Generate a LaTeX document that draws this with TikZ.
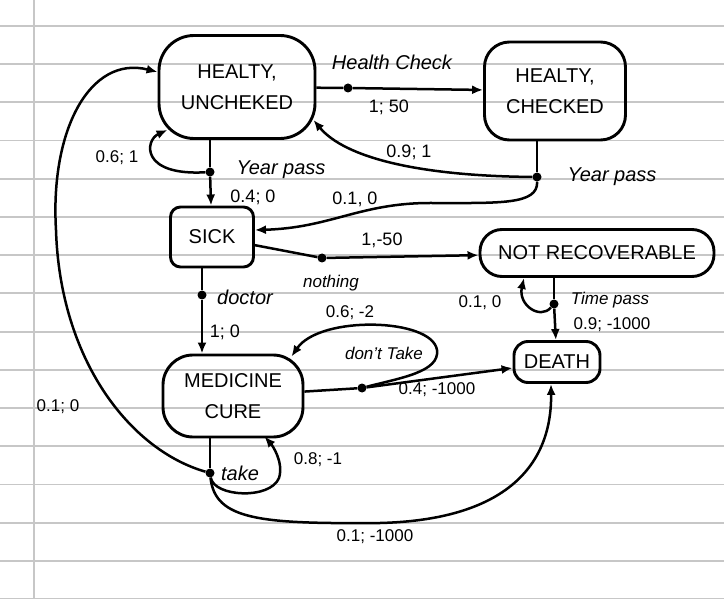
\documentclass[tikz,border=0pt]{standalone}
\usepackage{fontspec}
\setmainfont{Liberation Sans}
\usepackage{tikz}
\usetikzlibrary{arrows.meta,calc}

\begin{document}
\begin{tikzpicture}[x=1pt, y=-1pt, >={Latex[length=11pt,width=9pt]},
    state/.style={draw, line width=2.9pt, align=center, inner sep=2pt, font=\fontsize{20}{31}\selectfont},
    choice/.style={circle, fill, inner sep=0pt, minimum size=9pt},
    link/.style={line width=2.5pt},
    word/.style={font=\fontsize{20}{24}\selectfont\itshape},
    sword/.style={font=\fontsize{17}{20}\selectfont\itshape},
    num/.style={font=\fontsize{18}{21}\selectfont},
    snum/.style={font=\fontsize{17}{20}\selectfont}]
    \useasboundingbox (0,0) rectangle (724,599);
    % lined paper
    \fill[white] (0,0) rectangle (724,599);
    \foreach \k in {0,...,15}
        \draw[black!22, line width=1.8pt] (0,26+38.2*\k) -- (724,26+38.2*\k);
    \draw[black!22, line width=1.8pt] (33.7,0) -- (33.7,599);

    % states
    \node[state, minimum width=156pt, minimum height=103pt, rounded corners=35pt] (hu) at (237,87) {HEALTY,\\UNCHEKED};
    \node[state, minimum width=141pt, minimum height=98pt, rounded corners=25pt] (hc) at (555,91) {HEALTY,\\CHECKED};
    \node[state, minimum width=83pt, minimum height=60pt, rounded corners=10pt] (sick) at (212,237) {SICK};
    \node[state, minimum width=234pt, minimum height=47pt, rounded corners=22pt] (nr) at (597,253) {NOT RECOVERABLE};
    \node[state, minimum width=86pt, minimum height=41pt, rounded corners=14pt] (death) at (557,362) {DEATH};
    \node[state, minimum width=140pt, minimum height=82pt, rounded corners=30pt] (mc) at (233,396) {MEDICINE\\CURE};

    % actions
    \node[choice] (hcheck) at (348,88) {};
    \node[choice] (ypass1) at (210,172) {};
    \node[choice] (ypass2) at (537,177) {};
    \node[choice] (nothing) at (322,258) {};
    \node[choice] (doctor) at (202,295) {};
    \node[choice] (dtake) at (362,388) {};
    \node[choice] (tpass) at (554,304) {};
    \node[choice] (take) at (210,473) {};

    % transitions
    \draw[link] (hu) -- (hcheck);
    \draw[link, ->] (hcheck) -- (hc);
    \draw[link] (ypass1 |- hu.south) -- (ypass1);
    \draw[link, ->] (ypass1) -- (sick);
    \draw[link, ->] (ypass1) .. controls (140,176) and (145,140) .. ($(hu.south west)+(10,-10)$);
    \draw[link] (ypass2 |- hc.south) -- (ypass2);
    \draw[link, ->] (ypass2) .. controls (420,176) and (345,158) .. ($(hu.south east)+(-3,-20)$);
    \draw[link, ->] (ypass2) .. controls (538,205) and (500,203) .. (430,203) .. controls (360,203) and (330,228) .. ($(sick.east)+(0,-7)$);
    \draw[link] (sick) -- (nothing);
    \draw[link, ->] (nothing) -- (nr);
    \draw[link] (doctor |- sick.south) -- (doctor);
    \draw[link, ->] (doctor) -- (doctor |- mc.north);
    \draw[link] (mc) -- (dtake);
    \draw[link, ->] (dtake) -- ($(death.west)+(0,6)$);
    \draw[link, ->] (dtake) .. controls (400,378) and (440,372) .. (437,350) .. controls (432,318) and (320,315) .. ($(mc.north east)+(-13,3)$);
    \draw[link] (tpass |- nr.south) -- (tpass);
    \draw[link, ->] (tpass) -- (death);
    \draw[link, ->] (tpass) .. controls (540,320) and (518,305) .. ($(nr.south)+(-73,0)$);
    \draw[link] (take |- mc.south) -- (take);
    \draw[link, ->] (take) .. controls (214,497) and (270,500) .. (279,478) .. controls (284,462) and (272,445) .. ($(mc.south east)+(-40,-2)$);
    \draw[link, ->] (take) .. controls (215,520) and (260,524) .. (380,523) .. controls (500,520) and (552,470) .. ($(death.south)+(-6,0)$);
    \draw[link, ->] (take) .. controls (130,450) and (60,360) .. (56,230) .. controls (50,130) and (90,55) .. ($(hu.west)+(0,-15)$);

    % labels
    \node[word] (lhc) at (392,62) {Health Check};
    \node[num] (l150) at (389,107) {1; 50};
    \node[word] (lyp1) at (281,170) {Year pass};
    \node[num] (l040) at (253,197) {0.4; 0};
    \node[snum] (l061) at (117,158) {0.6; 1};
    \node[word] (lyp2) at (612,177) {Year pass};
    \node[num] (l091) at (409,152) {0.9; 1};
    \node[num] (l010a) at (355,199) {0.1, 0};
    \node[num] (l150b) at (382,240) {1,-50};
    \node[sword] (lnot) at (331,283) {nothing};
    \node[word] (ldoc) at (245,297) {doctor};
    \node[num] (l10) at (225,332) {1; 0};
    \node[snum] (l062) at (350,313) {0.6; -2};
    \node[sword] (ldtk) at (384,353) {don't Take};
    \node[snum] (l04) at (437,390) {0.4; -1000};
    \node[snum] (l010b) at (480,303) {0.1, 0};
    \node[sword] (ltp) at (610,300) {Time pass};
    \node[snum] (l09) at (612,325) {0.9; -1000};
    \node[word] (ltk) at (240,473) {take};
    \node[snum] (l08) at (318,460) {0.8; -1};
    \node[snum] (l01k) at (375,537) {0.1; -1000};
    \node[snum] (l010c) at (58,407) {0.1; 0};
\end{tikzpicture}
\end{document}
